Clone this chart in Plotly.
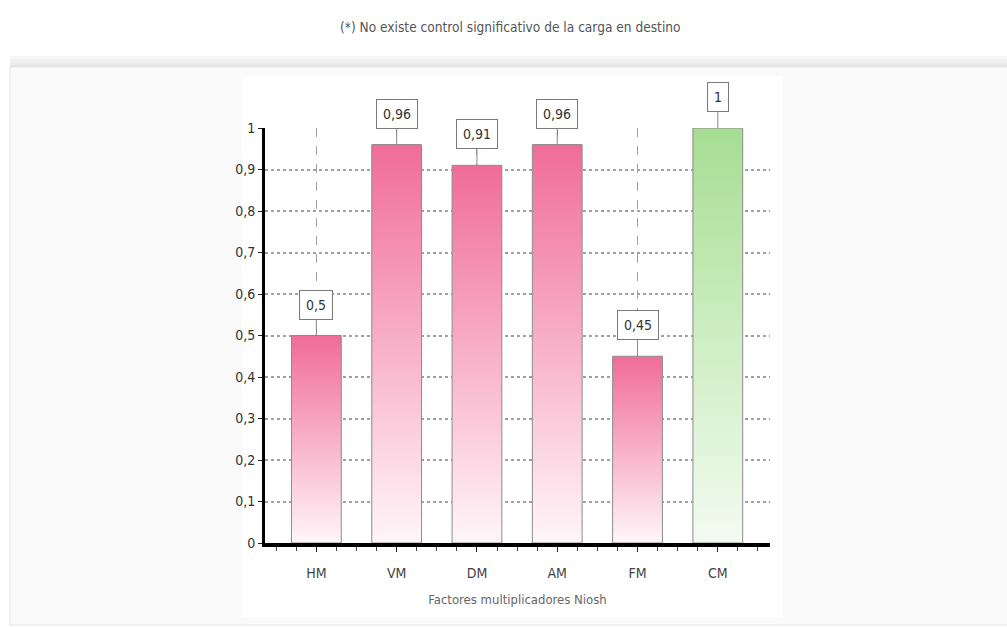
import plotly.graph_objects as go

categories = ["HM", "VM", "DM", "AM", "FM", "CM"]
values = [0.5, 0.96, 0.91, 0.96, 0.45, 1.0]
labels = ["0,5", "0,96", "0,91", "0,96", "0,45", "1"]
kinds = ["pink", "pink", "pink", "pink", "pink", "green"]
y_ticks = [0, 0.1, 0.2, 0.3, 0.4, 0.5, 0.6, 0.7, 0.8, 0.9, 1.0]
y_tick_text = ["0", "0,1", "0,2", "0,3", "0,4", "0,5", "0,6", "0,7", "0,8", "0,9", "1"]
title_text = "(*) No existe control significativo de la carga en destino"
x_title = "Factores multiplicadores Niosh"

W, H = 1007, 627
L, R, T, B = 265, 770, 128, 543
FONT = "DejaVu Sans, sans-serif"

def cond(s):
    return '<span style="font-stretch:condensed">' + s + '</span>'

scales = {
    "pink": [[0, "#fff6f9"], [0.5, "#f8b0c9"], [1, "#f06c99"]],
    "green": [[0, "#f3fbf1"], [0.5, "#cdeec2"], [1, "#a6dd92"]],
}

def px(xp):
    return (xp - L) / (R - L)

def py(yp):
    return (B - yp) / (B - T)

fig = go.Figure()
half = 0.31
for i, (cat, v, k) in enumerate(zip(categories, values, kinds)):
    fig.add_trace(go.Scatter(
        x=[i - half, i - half, i + half, i + half, i - half],
        y=[0, v, v, 0, 0],
        mode="lines", fill="toself",
        fillgradient=dict(type="vertical", colorscale=scales[k], start=0, stop=v),
        line=dict(color="#8c8c8c", width=1),
        cliponaxis=False, showlegend=False, hoverinfo="skip",
    ))
    fig.add_annotation(
        x=i, y=v, text=cond(labels[i]), showarrow=True, arrowhead=0, arrowwidth=1,
        arrowcolor="#888888", ax=0, ay=-31,
        bgcolor="white", bordercolor="#7a7a7a", borderwidth=1, borderpad=6,
        font=dict(family=FONT, size=14, color="#333333"),
    )

shapes = []
for k, c in enumerate(["#f7f7f7", "#f1f1f1", "#ebebeb", "#e5e5e5"]):
    shapes.append(dict(type="rect", xref="paper", yref="paper", layer="below",
                       x0=px(10), x1=px(1007), y0=py(67), y1=py(56 + k * 3),
                       fillcolor=c, line=dict(width=0)))
shapes.append(dict(type="rect", xref="paper", yref="paper", layer="below",
                   x0=px(10), x1=px(1010), y0=py(625), y1=py(67),
                   fillcolor="#fafafa", line=dict(color="#e4e4e4", width=1)))
shapes.append(dict(type="rect", xref="paper", yref="paper", layer="below",
                   x0=px(242), x1=px(783), y0=py(617), y1=py(76),
                   fillcolor="#ffffff", line=dict(width=0)))

fig.add_annotation(xref="paper", yref="paper", x=px(510), y=py(27),
                   xanchor="center", yanchor="middle",
                   text=cond(title_text), showarrow=False,
                   font=dict(family=FONT, size=13.6, color="#555555"))

fig.update_layout(
    width=W, height=H,
    margin=dict(l=L, r=W - R, t=T, b=H - B, pad=0),
    paper_bgcolor="white", plot_bgcolor="rgba(0,0,0,0)",
    shapes=shapes,
    xaxis=dict(
        range=[-0.64, 5.65], tickvals=list(range(len(categories))),
        ticktext=[cond(c) for c in categories],
        showgrid=True, gridcolor="#a0a0a0", griddash="dash", gridwidth=1,
        showline=True, linecolor="black", linewidth=4, zeroline=False,
        ticks="outside", ticklen=5, tickcolor="#222", tickwidth=1,
        ticklabelstandoff=9,
        minor=dict(dtick=0.25, tick0=0, ticks="outside", ticklen=4, tickcolor="#444", showgrid=False),
        tickfont=dict(family=FONT, size=14, color="#444444"),
        title=dict(text=cond(x_title), font=dict(family=FONT, size=13, color="#666666"), standoff=16),
        fixedrange=True,
    ),
    yaxis=dict(
        range=[0, 1.0], tickvals=y_ticks, ticktext=[cond(t) for t in y_tick_text],
        showgrid=False, zeroline=False,
        minor=dict(tickvals=y_ticks[1:-1], showgrid=True, gridcolor="#a0a0a0",
                   griddash="dot", gridwidth=2, ticks=""),
        showline=True, linecolor="black", linewidth=3,
        ticks="outside", ticklen=4, tickcolor="#222",
        tickfont=dict(family=FONT, size=14, color="#333333"),
        fixedrange=True,
    ),
)

fig.write_html("out.html")
